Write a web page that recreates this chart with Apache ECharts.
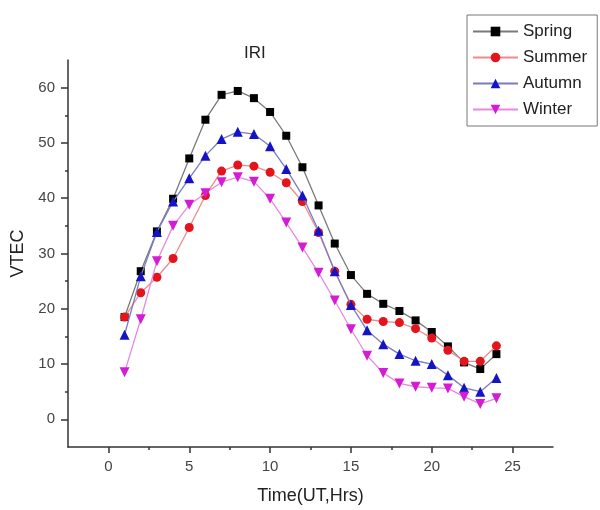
<!DOCTYPE html>
<html>
<head>
<meta charset="utf-8">
<script src="https://cdn.jsdelivr.net/npm/echarts@6/dist/echarts.min.js"></script>
<style>
html,body{margin:0;padding:0;background:#fff;}
#chart{width:600px;height:510px;}
</style>
</head>
<body>
<div id="chart"></div>
<script>
var hours = [1,2,3,4,5,6,7,8,9,10,11,12,13,14,15,16,17,18,19,20,21,22,23,24];
var spring = [18.5, 26.8, 34.0, 39.9, 47.2, 54.2, 58.7, 59.4, 58.1, 55.6, 51.3, 45.6, 38.7, 31.8, 26.1, 22.7, 20.9, 19.6, 17.9, 15.8, 13.2, 10.3, 9.1, 11.8];
var summer = [18.5, 22.9, 25.7, 29.1, 34.7, 40.5, 44.9, 46.0, 45.8, 44.7, 42.8, 39.4, 33.8, 26.8, 20.8, 18.1, 17.7, 17.5, 16.4, 14.7, 12.5, 10.5, 10.5, 13.3];
var autumn = [15.3, 25.9, 33.9, 39.4, 43.6, 47.7, 50.7, 52.0, 51.6, 49.4, 45.3, 40.5, 34.1, 26.8, 20.7, 16.1, 13.6, 11.8, 10.6, 10.0, 8.0, 5.7, 5.0, 7.5];
var winter = [8.5, 18.1, 28.6, 35.0, 38.8, 40.9, 42.9, 43.8, 43.0, 39.9, 35.6, 31.1, 26.5, 21.5, 16.3, 11.5, 8.4, 6.5, 5.9, 5.7, 5.6, 4.1, 2.8, 3.8];
var seriesNames = ['Spring', 'Summer', 'Autumn', 'Winter'];
var xTicks = [0, 5, 10, 15, 20, 25];
var xMinorTicks = [2.5, 7.5, 12.5, 17.5, 22.5];
var yTicks = [0, 10, 20, 30, 40, 50, 60];
var yMinorTicks = [5, 15, 25, 35, 45, 55];

function pairs(vals) { return hours.map(function (h, i) { return [h, vals[i]]; }); }

var FONT = 'Arial, "Liberation Sans", sans-serif';
var axisColor = '#333';
var chart = echarts.init(document.getElementById('chart'), null, {renderer: 'canvas'});

var styles = [
  {symbol: 'rect', size: 8, rotate: 0, color: '#000000', line: '#7a7a7a'},
  {symbol: 'circle', size: 9, rotate: 0, color: '#e3141c', line: '#ef8a8a'},
  {symbol: 'triangle', size: 10, rotate: 0, color: '#1414c4', line: '#7b7bc4'},
  {symbol: 'triangle', size: 10, rotate: 180, color: '#d41cd4', line: '#e48ae4'}
];
var datasets = [spring, summer, autumn, winter];

var series = datasets.map(function (vals, k) {
  var s = styles[k];
  return {
    name: seriesNames[k],
    type: 'line',
    data: pairs(vals),
    symbol: s.symbol,
    symbolSize: s.size,
    symbolRotate: s.rotate,
    showAllSymbol: true,
    smooth: false,
    lineStyle: {color: s.line, width: 1.3},
    itemStyle: {color: s.color, borderWidth: 0},
    emphasis: {disabled: true},
    animation: false,
    z: 2 + k
  };
});

var option = {
  backgroundColor: '#ffffff',
  animation: false,
  title: {
    text: 'IRI',
    left: 239,
    top: 40,
    textStyle: {fontFamily: FONT, fontSize: 17, fontWeight: 'normal', color: '#222'}
  },
  legend: {
    orient: 'vertical',
    left: 467,
    top: 15,
    data: seriesNames,
    borderColor: '#777',
    borderWidth: 1,
    padding: [8, 10, 8, 5],
    itemWidth: 45,
    itemHeight: 12,
    itemGap: 9,
    textStyle: {fontFamily: FONT, fontSize: 17, color: '#222', lineHeight: 16}
  },
  grid: {left: 68, right: 47, top: 60, bottom: 59, containLabel: false},
  xAxis: [{
    type: 'value',
    min: -2.5,
    max: 27.5,
    name: 'Time(UT,Hrs)',
    nameLocation: 'middle',
    nameGap: 40,
    nameTextStyle: {fontFamily: FONT, fontSize: 18, color: '#222'},
    axisLine: {show: true, onZero: false, lineStyle: {color: axisColor, width: 1.5}},
    axisTick: {show: true, inside: false, length: 6, customValues: xTicks, lineStyle: {color: axisColor, width: 1.5}},
    axisLabel: {show: true, customValues: xTicks, margin: 12, fontFamily: FONT, fontSize: 15, color: '#444'},
    splitLine: {show: false}
  }, {
    type: 'value',
    position: 'bottom',
    offset: 0,
    min: -2.5,
    max: 27.5,
    axisLine: {show: false, onZero: false},
    axisTick: {show: true, inside: false, length: 3, customValues: xMinorTicks, lineStyle: {color: axisColor, width: 1.5}},
    axisLabel: {show: false},
    splitLine: {show: false}
  }],
  yAxis: [{
    type: 'value',
    min: -5,
    max: 65,
    name: 'VTEC',
    nameLocation: 'middle',
    nameGap: 39,
    nameRotate: 90,
    nameTextStyle: {fontFamily: FONT, fontSize: 18, color: '#222'},
    axisLine: {show: true, onZero: false, lineStyle: {color: axisColor, width: 1.5}},
    axisTick: {show: true, inside: false, length: 7, customValues: yTicks, lineStyle: {color: axisColor, width: 1.5}},
    axisLabel: {show: true, customValues: yTicks, margin: 13, fontFamily: FONT, fontSize: 15, color: '#444'},
    splitLine: {show: false}
  }, {
    type: 'value',
    position: 'left',
    offset: 0,
    min: -5,
    max: 65,
    axisLine: {show: false, onZero: false},
    axisTick: {show: true, inside: false, length: 3, customValues: yMinorTicks, lineStyle: {color: axisColor, width: 1.5}},
    axisLabel: {show: false},
    splitLine: {show: false}
  }],
  series: series
};
chart.setOption(option);
</script>
</body>
</html>
